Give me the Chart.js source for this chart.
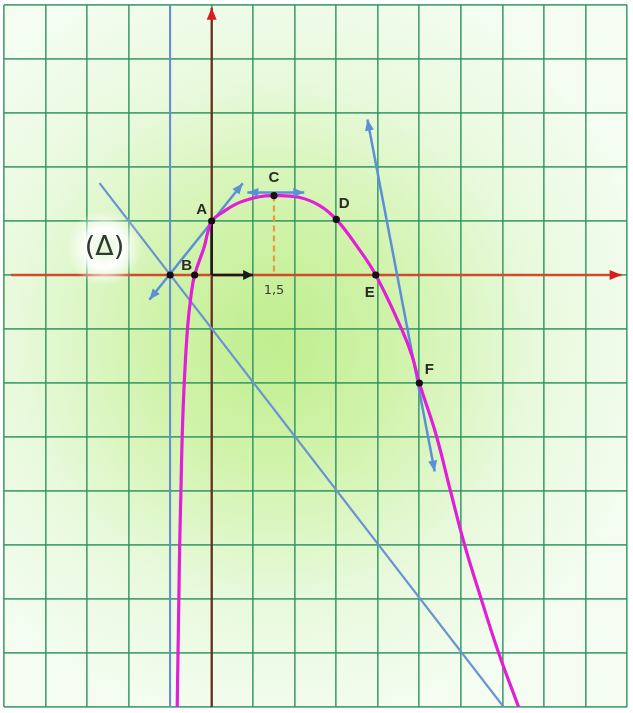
<!DOCTYPE html>
<html>
<head>
<meta charset="utf-8">
<script src="https://cdn.jsdelivr.net/npm/chart.js@4.4.1/dist/chart.umd.min.js"></script>
<style>
  html, body { margin: 0; padding: 0; background: #ffffff; overflow: hidden; }
  canvas { display: block; }
</style>
</head>
<body>
<canvas id="graph" width="633" height="713"></canvas>
<script>
// curve of f (x, y in graph units)
const curveX = [-0.83, -0.81, -0.79, -0.77, -0.74, -0.71, -0.66, -0.58, -0.5, -0.41, -0.18, -0.1, 0, 0.26, 0.66, 1.15, 1.5, 2.1, 2.59, 3, 3.5, 3.95, 4.59, 4.83, 5, 5.4, 5.75, 6.09, 6.49, 6.91, 7.39];
const curveY = [-8, -7, -6, -5, -4, -3, -2, -0.97, -0.4, 0, 0.52, 0.77, 1, 1.16, 1.34, 1.45, 1.47, 1.44, 1.29, 1.03, 0.53, 0, -1.03, -1.51, -2, -2.95, -4, -5, -6, -7, -8];

// straight lines (end points)
const deltaX = [-2.7, 7.03];
const deltaY = [1.7, -8];
const asymX = [-1, -1];
const asymY = [-8, 5];
const tanAX = [-1.5, 0.75];
const tanAY = [-0.46, 1.7];
const tanCX = [0.86, 2.23];
const tanCY = [1.53, 1.53];
const tanFX = [3.75, 5.37];
const tanFY = [2.88, -3.64];

// axes and unit vectors
const xAxisX = [-4.83, 9.87];
const xAxisY = [0, 0];
const yAxisX = [0, 0];
const yAxisY = [-8, 4.95];
const vecIX = [0, 1];
const vecIY = [0, 0];
const vecJX = [0, 0];
const vecJY = [0, 0.97];
const dashX = [1.5, 1.5];
const dashY = [1.47, 0];

// marked points
const ptNames = ['A', 'B', 'C', 'D', 'E', 'F', ''];
const ptX = [0, -0.41, 1.5, 3, 3.95, 5, -1];
const ptY = [1, 0, 1.47, 1.03, 0, -2, 0];

const tickLabel = '1,5';
const tickX = 1.5;
const deltaLabel = '(\u0394)';
const deltaPos = [-2.58, 0.5];

const toXY = (xs, ys) => xs.map((x, i) => ({ x: x, y: ys[i] }));

// label offsets in pixels
const labelOffset = { A: [-10, -11], B: [-8, -9], C: [0, -18], D: [8, -16], E: [-6, 18], F: [10, -13] };

const line = (xs, ys, color, width, extra) => Object.assign({
  data: toXY(xs, ys),
  showLine: true,
  borderColor: color,
  backgroundColor: color,
  borderWidth: width,
  pointRadius: 0,
  pointHoverRadius: 0,
}, extra || {});

const backgroundPlugin = {
  id: 'paper',
  beforeDraw(chart) {
    const { ctx, chartArea: a } = chart;
    ctx.save();
    ctx.fillStyle = '#ffffff';
    ctx.fillRect(0, 0, chart.width, chart.height);
    const g = ctx.createRadialGradient(275, 340, 0, 275, 340, 400);
    g.addColorStop(0, '#c0ee8e');
    g.addColorStop(0.3, '#d0f3aa');
    g.addColorStop(0.65, '#e8f9dc');
    g.addColorStop(1, '#f5fdf3');
    ctx.fillStyle = g;
    ctx.fillRect(a.left, a.top, a.right - a.left, a.bottom - a.top);
    ctx.restore();
  }
};

const arrowPlugin = {
  id: 'arrows',
  afterDatasetsDraw(chart) {
    const ctx = chart.ctx;
    chart.data.datasets.forEach((ds, i) => {
      if (!ds.arrowEnd && !ds.arrowStart) return;
      const pts = chart.getDatasetMeta(i).data;
      const head = (tip, from) => {
        const ang = Math.atan2(tip.y - from.y, tip.x - from.x);
        const L = ds.arrowLength || 11, W = ds.arrowWidth || 4.5;
        ctx.beginPath();
        ctx.moveTo(tip.x, tip.y);
        ctx.lineTo(tip.x - L * Math.cos(ang) + W * Math.sin(ang), tip.y - L * Math.sin(ang) - W * Math.cos(ang));
        ctx.lineTo(tip.x - L * Math.cos(ang) - W * Math.sin(ang), tip.y - L * Math.sin(ang) + W * Math.cos(ang));
        ctx.closePath();
        ctx.fill();
      };
      ctx.save();
      ctx.fillStyle = ds.arrowColor || ds.borderColor;
      if (ds.arrowEnd) head(pts[pts.length - 1], pts[pts.length - 2]);
      if (ds.arrowStart) head(pts[0], pts[1]);
      ctx.restore();
    });
  }
};

const labelPlugin = {
  id: 'labels',
  afterDatasetsDraw(chart) {
    const { ctx, scales: { x, y } } = chart;
    ctx.save();
    // glow behind (Δ)
    const cx = x.getPixelForValue(deltaPos[0]);
    const cy = y.getPixelForValue(deltaPos[1]);
    const g = ctx.createRadialGradient(cx, cy, 0, cx, cy, 38);
    g.addColorStop(0, 'rgba(225,246,210,1)');
    g.addColorStop(0.5, 'rgba(255,255,255,0.97)');
    g.addColorStop(1, 'rgba(255,255,255,0)');
    ctx.fillStyle = g;
    ctx.fillRect(cx - 40, cy - 40, 80, 80);
    ctx.fillStyle = '#2e3a2e';
    ctx.font = '27px "DejaVu Sans"';
    ctx.textAlign = 'center';
    ctx.textBaseline = 'middle';
    ctx.fillText(deltaLabel, cx, cy);

    ctx.font = 'bold 15px "Liberation Sans"';
    ctx.fillStyle = '#2a2a2a';
    ptNames.forEach((n, i) => {
      if (!n) return;
      const o = labelOffset[n];
      ctx.fillText(n, x.getPixelForValue(ptX[i]) + o[0], y.getPixelForValue(ptY[i]) + o[1]);
    });
    ctx.font = '13px "DejaVu Sans"';
    ctx.fillStyle = '#3a3a3a';
    ctx.fillText(tickLabel, x.getPixelForValue(tickX), y.getPixelForValue(0) + 16);
    ctx.restore();
  }
};

const gridStyle = { color: 'rgba(48,148,96,0.85)', lineWidth: 1.7, drawTicks: false };

new Chart(document.getElementById('graph'), {
  type: 'scatter',
  data: {
    datasets: [
      { data: toXY(ptX, ptY), pointRadius: 3.6, pointBackgroundColor: '#111', pointBorderWidth: 0, showLine: false },
      line(curveX, curveY, '#e11fd6', 3.2, { tension: 0.4 }),
      line(tanAX, tanAY, '#5d8fd8', 2.5, { arrowEnd: true, arrowStart: true }),
      line(tanCX, tanCY, '#5d8fd8', 2.5, { arrowEnd: true, arrowStart: true }),
      line(tanFX, tanFY, '#5d8fd8', 2.5, { arrowEnd: true, arrowStart: true }),
      line(vecIX, vecIY, '#1a1a1a', 2.5, { arrowEnd: true, arrowLength: 10, arrowWidth: 5 }),
      line(vecJX, vecJY, '#1a1a1a', 2.5),
      line(dashX, dashY, '#ec9a3c', 2.2, { borderDash: [6, 4] }),
      line(deltaX, deltaY, '#6a94d0', 2.2),
      line(asymX, asymY, '#6a8ed6', 2),
      line(xAxisX, xAxisY, '#cf4b2e', 2.6, { arrowEnd: true, arrowColor: '#d61e1e', arrowLength: 12, arrowWidth: 5 }),
      line(yAxisX, yAxisY, '#6e2a1c', 2.2, { arrowEnd: true, arrowColor: '#d61e1e', arrowLength: 12, arrowWidth: 5 }),
    ]
  },
  options: {
    responsive: false,
    animation: false,
    devicePixelRatio: 1,
    layout: { padding: { left: -2, right: 6, top: 5, bottom: 6 } },
    plugins: { legend: { display: false }, tooltip: { enabled: false } },
    events: [],
    scales: {
      x: { type: 'linear', min: -5, max: 10, ticks: { display: false, stepSize: 1 }, grid: gridStyle, border: { display: false } },
      y: { type: 'linear', min: -8, max: 5, ticks: { display: false, stepSize: 1 }, grid: gridStyle, border: { display: false } }
    }
  },
  plugins: [backgroundPlugin, arrowPlugin, labelPlugin]
});
</script>
</body>
</html>
